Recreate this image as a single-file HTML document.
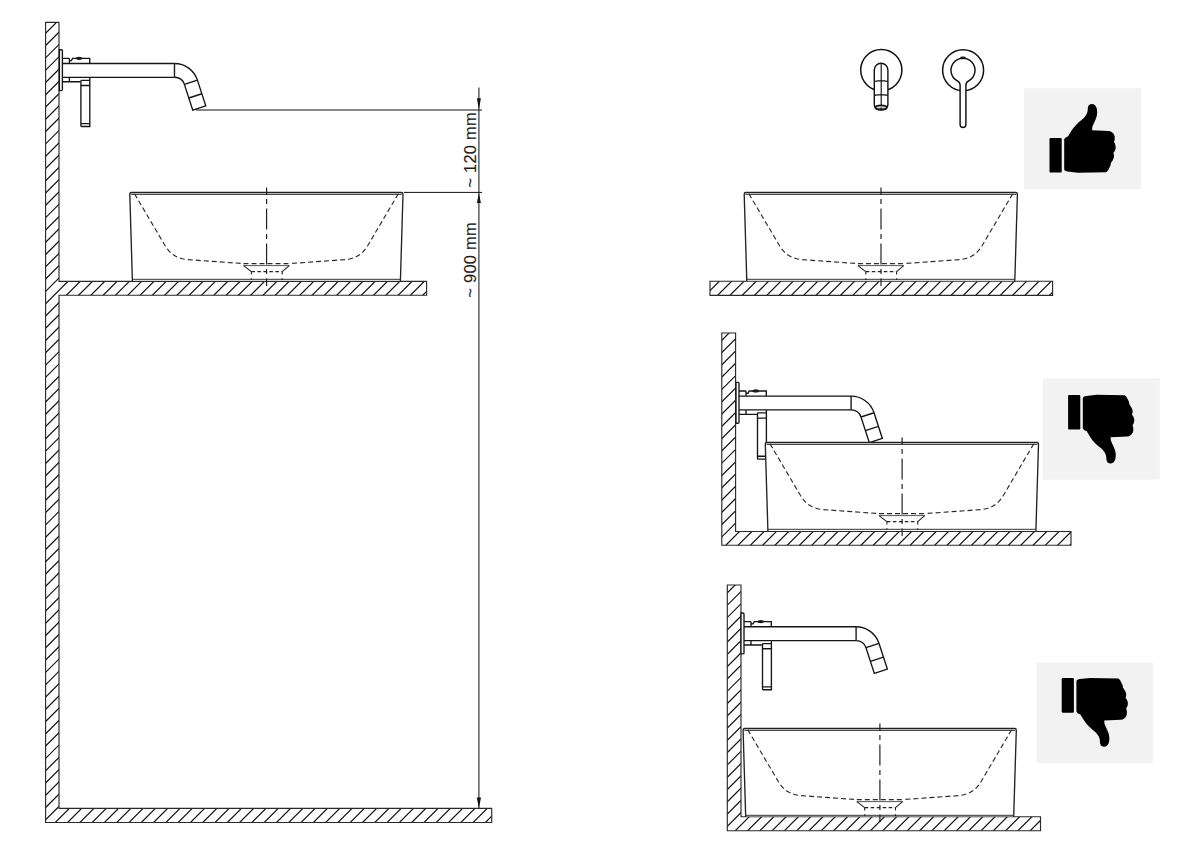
<!DOCTYPE html>
<html><head><meta charset="utf-8"><style>
html,body{margin:0;padding:0;background:#fff;width:1200px;height:851px;overflow:hidden;}
svg{display:block;}
</style></head><body>
<svg width="1200" height="851" viewBox="0 0 1200 851">
<defs><clipPath id="c1"><polygon points="45.60,22.30 59.00,22.30 59.00,281.40 426.60,281.40 426.60,295.20 59.00,295.20 59.00,808.30 491.70,808.30 491.70,822.50 45.60,822.50"/></clipPath><clipPath id="c2"><polygon points="710.00,281.20 1052.60,281.20 1052.60,295.30 710.00,295.30"/></clipPath><clipPath id="c3"><polygon points="721.80,333.00 735.60,333.00 735.60,531.50 1071.00,531.50 1071.00,545.20 721.80,545.20"/></clipPath><clipPath id="c4"><polygon points="727.30,585.00 741.00,585.00 741.00,816.70 1040.50,816.70 1040.50,830.70 727.30,830.70"/></clipPath></defs>
<rect width="1200" height="851" fill="#fff"/>
<g clip-path="url(#c1)"><path d="M-757.89,824.50L46.31,20.30M-745.60,824.50L58.60,20.30M-733.31,824.50L70.89,20.30M-721.02,824.50L83.18,20.30M-708.73,824.50L95.47,20.30M-696.44,824.50L107.76,20.30M-684.15,824.50L120.05,20.30M-671.86,824.50L132.34,20.30M-659.57,824.50L144.63,20.30M-647.28,824.50L156.92,20.30M-634.99,824.50L169.21,20.30M-622.70,824.50L181.50,20.30M-610.41,824.50L193.79,20.30M-598.12,824.50L206.08,20.30M-585.83,824.50L218.37,20.30M-573.54,824.50L230.66,20.30M-561.25,824.50L242.95,20.30M-548.96,824.50L255.24,20.30M-536.67,824.50L267.53,20.30M-524.38,824.50L279.82,20.30M-512.09,824.50L292.11,20.30M-499.80,824.50L304.40,20.30M-487.51,824.50L316.69,20.30M-475.22,824.50L328.98,20.30M-462.93,824.50L341.27,20.30M-450.64,824.50L353.56,20.30M-438.35,824.50L365.85,20.30M-426.06,824.50L378.14,20.30M-413.77,824.50L390.43,20.30M-401.48,824.50L402.72,20.30M-389.19,824.50L415.01,20.30M-376.90,824.50L427.30,20.30M-364.61,824.50L439.59,20.30M-352.32,824.50L451.88,20.30M-340.03,824.50L464.17,20.30M-327.74,824.50L476.46,20.30M-315.45,824.50L488.75,20.30M-303.16,824.50L501.04,20.30M-290.87,824.50L513.33,20.30M-278.58,824.50L525.62,20.30M-266.29,824.50L537.91,20.30M-254.00,824.50L550.20,20.30M-241.71,824.50L562.49,20.30M-229.42,824.50L574.78,20.30M-217.13,824.50L587.07,20.30M-204.84,824.50L599.36,20.30M-192.55,824.50L611.65,20.30M-180.26,824.50L623.94,20.30M-167.97,824.50L636.23,20.30M-155.68,824.50L648.52,20.30M-143.39,824.50L660.81,20.30M-131.10,824.50L673.10,20.30M-118.81,824.50L685.39,20.30M-106.52,824.50L697.68,20.30M-94.23,824.50L709.97,20.30M-81.94,824.50L722.26,20.30M-69.65,824.50L734.55,20.30M-57.36,824.50L746.84,20.30M-45.07,824.50L759.13,20.30M-32.78,824.50L771.42,20.30M-20.49,824.50L783.71,20.30M-8.20,824.50L796.00,20.30M4.09,824.50L808.29,20.30M16.38,824.50L820.58,20.30M28.67,824.50L832.87,20.30M40.96,824.50L845.16,20.30M53.25,824.50L857.45,20.30M65.54,824.50L869.74,20.30M77.83,824.50L882.03,20.30M90.12,824.50L894.32,20.30M102.41,824.50L906.61,20.30M114.70,824.50L918.90,20.30M126.99,824.50L931.19,20.30M139.28,824.50L943.48,20.30M151.57,824.50L955.77,20.30M163.86,824.50L968.06,20.30M176.15,824.50L980.35,20.30M188.44,824.50L992.64,20.30M200.73,824.50L1004.93,20.30M213.02,824.50L1017.22,20.30M225.31,824.50L1029.51,20.30M237.60,824.50L1041.80,20.30M249.89,824.50L1054.09,20.30M262.18,824.50L1066.38,20.30M274.47,824.50L1078.67,20.30M286.76,824.50L1090.96,20.30M299.05,824.50L1103.25,20.30M311.34,824.50L1115.54,20.30M323.63,824.50L1127.83,20.30M335.92,824.50L1140.12,20.30M348.21,824.50L1152.41,20.30M360.50,824.50L1164.70,20.30M372.79,824.50L1176.99,20.30M385.08,824.50L1189.28,20.30M397.37,824.50L1201.57,20.30M409.66,824.50L1213.86,20.30M421.95,824.50L1226.15,20.30M434.24,824.50L1238.44,20.30M446.53,824.50L1250.73,20.30M458.82,824.50L1263.02,20.30M471.11,824.50L1275.31,20.30M483.40,824.50L1287.60,20.30M495.69,824.50L1299.89,20.30" stroke="#111" stroke-width="1.2" fill="none"/></g>
<polygon points="45.60,22.30 59.00,22.30 59.00,281.40 426.60,281.40 426.60,295.20 59.00,295.20 59.00,808.30 491.70,808.30 491.70,822.50 45.60,822.50" fill="none" stroke="#2a2a2a" stroke-width="1.15"/>
<g id="basin"><path d="M132.4,280.2 L129.8,194.2 Q129.8,192.5 131.4,192.5 L401.4,192.5 Q403,192.5 403,194.2 L400.4,280.2 Z" fill="#fff" stroke="none"/><path d="M132.4,280.9 L129.8,194.2 Q129.8,192.5 131.4,192.5 L401.4,192.5 Q403,192.5 403,194.2 L400.4,280.9" fill="none" stroke="#222" stroke-width="1.35"/><path d="M131,194.4 L401.8,194.4 M132.4,279.3 L400.4,279.3" fill="none" stroke="#333" stroke-width="1"/><path d="M134.5,193.8 L165,245.5 C170,253.5 175,257.6 186,259.5 L243.5,263.6 M398.3,193.8 L367.8,245.5 C362.8,253.5 357.8,257.6 346.8,259.5 L289.3,263.6 M243.5,263.6 L289.3,263.6" fill="none" stroke="#2a2a2a" stroke-width="1.15" stroke-dasharray="5,3"/><path d="M243.5,265.6 L289.3,265.6" fill="none" stroke="#555" stroke-width="1"/><path d="M243.5,265.6 L251.4,271.6 M289.3,265.6 L282.2,271.6" fill="none" stroke="#222" stroke-width="1.1"/><path d="M251.4,271.6 L282.2,271.6" fill="none" stroke="#222" stroke-width="1.1" stroke-dasharray="3.5,2.5"/><path d="M251.4,271.6 L251.4,280 M282.2,271.6 L282.2,280" fill="none" stroke="#222" stroke-width="1.1" stroke-dasharray="3,3.6"/><path d="M266.6,187.4 L266.6,286" fill="none" stroke="#1a1a1a" stroke-width="1.15" stroke-dasharray="21,4.4,5,4.5" stroke-dashoffset="13.7"/></g>
<g id="faucet"><path d="M59.4,49.7 L61.4,49.7 Q62.4,49.7 62.4,50.7 L62.4,89.6 Q62.4,90.6 61.4,90.6 L59.4,90.6 Z" fill="#fff" stroke="#151515" stroke-width="1.35" fill="none"/><path d="M62.4,63.5 L174.5,63.5 M62.4,77.3 L174.5,77.3 M174.5,63.5 L174.5,77.3" stroke="#151515" stroke-width="1.35" fill="none"/><path d="M174.5,63.5 A24.10,24.10 0 0 1 197.42,80.15 L205.76,105.83 L192.73,110.06 L184.39,84.39 A10.40,10.40 0 0 0 174.5,77.3" stroke="#151515" stroke-width="1.35" fill="none"/><path d="M184.39,84.39 L197.42,80.15 M188.81,97.99 L201.84,93.75" stroke="#151515" stroke-width="1.35" fill="none"/><path d="M62.4,58.4 L68.6,58.4 Q69.4,58.4 69.4,59.2 L69.4,63.5 M69.4,60.6 L71.4,60.6 L72.6,58.4 L89.7,58.4 L89.7,63.5" stroke="#151515" stroke-width="1.35" fill="none"/><ellipse cx="79.1" cy="58.3" rx="3.3" ry="1.6" fill="#1a1a1a"/><path d="M62.4,81.7 L80.3,81.7 M69.4,77.3 L69.4,81.7" stroke="#151515" stroke-width="1.35" fill="none"/><path d="M89.8,77.3 L89.8,126.5 L81.6,126.5 Q80.9,126.5 80.9,125.8 L80.9,81.1 Q80.9,80.3 81.7,80.3 L89.8,80.3 M80.9,85.5 L89.8,85.5 M80.9,123.6 L89.8,123.6" stroke="#151515" stroke-width="1.35" fill="none"/></g>
<path d="M196,110 L482,110 M404,192.4 L482,192.4" stroke="#111" stroke-width="1.0" fill="none"/>
<path d="M478.9,87.6 L478.9,808.3" stroke="#222" stroke-width="1.1" fill="none"/>
<path d="M478.9,109.5 L476.9,98.3 L480.9,98.3 Z M478.9,192.9 L476.9,203 L480.9,203 Z M478.9,808.3 L476.8,797.5 L481,797.5 Z" fill="#111"/>
<text transform="translate(475.9,149.85) rotate(-90)" text-anchor="middle" font-family="Liberation Sans" font-size="16.4" letter-spacing="0.3" fill="#1a1a1a" stroke="#1a1a1a" stroke-width="0.12" opacity="0.99">~ 120 mm</text>
<text transform="translate(475.9,259.85) rotate(-90)" text-anchor="middle" font-family="Liberation Sans" font-size="16.4" letter-spacing="0.3" fill="#1a1a1a" stroke="#1a1a1a" stroke-width="0.12" opacity="0.99">~ 900 mm</text>
<circle cx="881.3" cy="70.1" r="20.6" fill="none" stroke="#111" stroke-width="1.5"/><path d="M874.3,104.5 L874.3,70 A6.8,6.8 0 0 1 887.9,70 L887.9,104.5 C887.9,108.6 885.2,110 881.1,110 C877,110 874.3,108.6 874.3,104.5 Z" fill="#fff" stroke="#111" stroke-width="1.4"/><path d="M881.2,63.2 L881.2,106 M874.3,81.5 Q881.2,79.8 887.9,81.5 M874.3,95.4 Q881.2,93.7 887.9,95.4" fill="none" stroke="#111" stroke-width="1.15"/><ellipse cx="881.1" cy="107.4" rx="5.6" ry="2.0" fill="#ccc" stroke="#111" stroke-width="1.7"/><circle cx="881.1" cy="108.2" r="0.8" fill="#111"/><circle cx="963.1" cy="70.3" r="20.5" fill="none" stroke="#111" stroke-width="1.5"/><path d="M960.1,124.5 L960.1,85 C960.1,82.8 958.6,81.6 957,80.6 A12,12 0 1 1 969,80.6 C967.4,81.6 965.9,82.8 965.9,85 L965.9,124.5 A2.9,2.9 0 0 1 960.1,124.5 Z" fill="#fff" stroke="#111" stroke-width="1.45"/><ellipse cx="963" cy="57.9" rx="2.9" ry="1.3" fill="#111"/>
<rect x="1024" y="88.2" width="116.8" height="101.2" fill="#f2f2f2"/>
<g id="thumb"><rect x="1049.5" y="138" width="12.2" height="34.6" rx="1.2" fill="#000"/><path d="M1064.2,139.2 C1065,137.5 1066.5,136.8 1068,136.4 L1071.9,130.1 C1074,127 1077,123.5 1081.5,120 C1084,118 1086.5,115.5 1087.4,112 C1087.9,110 1087.6,108.5 1088,107 C1088.6,104.8 1090,104 1091.8,104 C1094,104 1095.7,105.5 1096.6,108 C1097.5,111 1097.3,114 1096.5,117 C1095.5,120 1093.5,124 1092.3,127 L1092,130.3 L1108.5,131 C1111,131.2 1113,132.5 1114.2,135 C1115,137 1115,140 1113.9,142.1 C1115.5,144 1116,147 1115.5,149 C1115,151 1114,152.3 1113.3,152.8 C1114.2,154.5 1114.3,157 1113.5,158.5 C1112.8,160.5 1111.5,162 1110.8,163 C1110.8,165 1110,167 1109.2,168 C1108.5,170 1107.5,171.5 1106,172.3 L1078,172.7 L1067.5,171.6 C1066,171.2 1064.2,170.5 1064.2,169.5 Z" fill="#000"/></g>
<rect x="1042.8" y="378.5" width="117" height="101.2" fill="#f2f2f2"/>
<use href="#thumb" transform="translate(18.6,567.5) scale(1,-1) translate(0,0)"/>
<rect x="1036.5" y="662.5" width="116.3" height="100.6" fill="#f2f2f2"/>
<use href="#thumb" transform="translate(12.2,850.7) scale(1,-1)"/>
<g clip-path="url(#c2)"><path d="M691.06,297.30L709.16,279.20M703.35,297.30L721.45,279.20M715.64,297.30L733.74,279.20M727.93,297.30L746.03,279.20M740.22,297.30L758.32,279.20M752.51,297.30L770.61,279.20M764.80,297.30L782.90,279.20M777.09,297.30L795.19,279.20M789.38,297.30L807.48,279.20M801.67,297.30L819.77,279.20M813.96,297.30L832.06,279.20M826.25,297.30L844.35,279.20M838.54,297.30L856.64,279.20M850.83,297.30L868.93,279.20M863.12,297.30L881.22,279.20M875.41,297.30L893.51,279.20M887.70,297.30L905.80,279.20M899.99,297.30L918.09,279.20M912.28,297.30L930.38,279.20M924.57,297.30L942.67,279.20M936.86,297.30L954.96,279.20M949.15,297.30L967.25,279.20M961.44,297.30L979.54,279.20M973.73,297.30L991.83,279.20M986.02,297.30L1004.12,279.20M998.31,297.30L1016.41,279.20M1010.60,297.30L1028.70,279.20M1022.89,297.30L1040.99,279.20M1035.18,297.30L1053.28,279.20M1047.47,297.30L1065.57,279.20M1059.76,297.30L1077.86,279.20" stroke="#111" stroke-width="1.2" fill="none"/></g>
<polygon points="710.00,281.20 1052.60,281.20 1052.60,295.30 710.00,295.30" fill="none" stroke="#2a2a2a" stroke-width="1.15"/>
<use href="#basin" transform="translate(614.4,0)"/>
<g clip-path="url(#c3)"><path d="M502.61,547.20L718.81,331.00M514.90,547.20L731.10,331.00M527.19,547.20L743.39,331.00M539.48,547.20L755.68,331.00M551.77,547.20L767.97,331.00M564.06,547.20L780.26,331.00M576.35,547.20L792.55,331.00M588.64,547.20L804.84,331.00M600.93,547.20L817.13,331.00M613.22,547.20L829.42,331.00M625.51,547.20L841.71,331.00M637.80,547.20L854.00,331.00M650.09,547.20L866.29,331.00M662.38,547.20L878.58,331.00M674.67,547.20L890.87,331.00M686.96,547.20L903.16,331.00M699.25,547.20L915.45,331.00M711.54,547.20L927.74,331.00M723.83,547.20L940.03,331.00M736.12,547.20L952.32,331.00M748.41,547.20L964.61,331.00M760.70,547.20L976.90,331.00M772.99,547.20L989.19,331.00M785.28,547.20L1001.48,331.00M797.57,547.20L1013.77,331.00M809.86,547.20L1026.06,331.00M822.15,547.20L1038.35,331.00M834.44,547.20L1050.64,331.00M846.73,547.20L1062.93,331.00M859.02,547.20L1075.22,331.00M871.31,547.20L1087.51,331.00M883.60,547.20L1099.80,331.00M895.89,547.20L1112.09,331.00M908.18,547.20L1124.38,331.00M920.47,547.20L1136.67,331.00M932.76,547.20L1148.96,331.00M945.05,547.20L1161.25,331.00M957.34,547.20L1173.54,331.00M969.63,547.20L1185.83,331.00M981.92,547.20L1198.12,331.00M994.21,547.20L1210.41,331.00M1006.50,547.20L1222.70,331.00M1018.79,547.20L1234.99,331.00M1031.08,547.20L1247.28,331.00M1043.37,547.20L1259.57,331.00M1055.66,547.20L1271.86,331.00M1067.95,547.20L1284.15,331.00M1080.24,547.20L1296.44,331.00" stroke="#111" stroke-width="1.2" fill="none"/></g>
<polygon points="721.80,333.00 735.60,333.00 735.60,531.50 1071.00,531.50 1071.00,545.20 721.80,545.20" fill="none" stroke="#2a2a2a" stroke-width="1.15"/>
<use href="#faucet" transform="translate(676.6,332.6)"/>
<use href="#basin" transform="translate(635.5,250)"/>
<g clip-path="url(#c4)"><path d="M475.20,832.70L724.90,583.00M487.49,832.70L737.19,583.00M499.78,832.70L749.48,583.00M512.07,832.70L761.77,583.00M524.36,832.70L774.06,583.00M536.65,832.70L786.35,583.00M548.94,832.70L798.64,583.00M561.23,832.70L810.93,583.00M573.52,832.70L823.22,583.00M585.81,832.70L835.51,583.00M598.10,832.70L847.80,583.00M610.39,832.70L860.09,583.00M622.68,832.70L872.38,583.00M634.97,832.70L884.67,583.00M647.26,832.70L896.96,583.00M659.55,832.70L909.25,583.00M671.84,832.70L921.54,583.00M684.13,832.70L933.83,583.00M696.42,832.70L946.12,583.00M708.71,832.70L958.41,583.00M721.00,832.70L970.70,583.00M733.29,832.70L982.99,583.00M745.58,832.70L995.28,583.00M757.87,832.70L1007.57,583.00M770.16,832.70L1019.86,583.00M782.45,832.70L1032.15,583.00M794.74,832.70L1044.44,583.00M807.03,832.70L1056.73,583.00M819.32,832.70L1069.02,583.00M831.61,832.70L1081.31,583.00M843.90,832.70L1093.60,583.00M856.19,832.70L1105.89,583.00M868.48,832.70L1118.18,583.00M880.77,832.70L1130.47,583.00M893.06,832.70L1142.76,583.00M905.35,832.70L1155.05,583.00M917.64,832.70L1167.34,583.00M929.93,832.70L1179.63,583.00M942.22,832.70L1191.92,583.00M954.51,832.70L1204.21,583.00M966.80,832.70L1216.50,583.00M979.09,832.70L1228.79,583.00M991.38,832.70L1241.08,583.00M1003.67,832.70L1253.37,583.00M1015.96,832.70L1265.66,583.00M1028.25,832.70L1277.95,583.00M1040.54,832.70L1290.24,583.00" stroke="#111" stroke-width="1.2" fill="none"/></g>
<polygon points="727.30,585.00 741.00,585.00 741.00,816.70 1040.50,816.70 1040.50,830.70 727.30,830.70" fill="none" stroke="#2a2a2a" stroke-width="1.15"/>
<use href="#basin" transform="translate(613.3,536)"/>
<use href="#faucet" transform="translate(681.6,563.3)"/>
</svg>
</body></html>
